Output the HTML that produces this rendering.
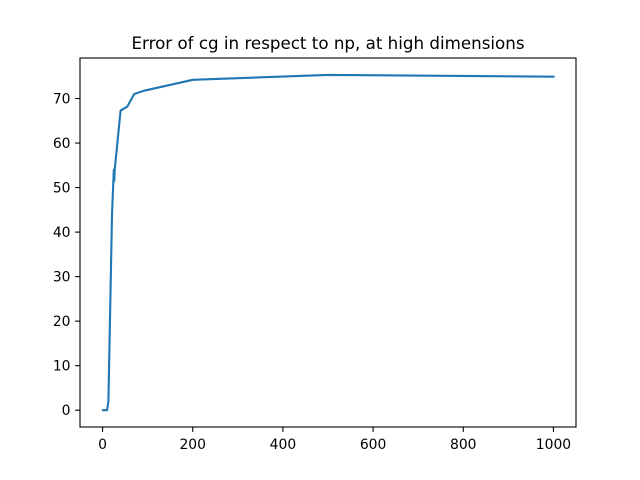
<!DOCTYPE html>
<html><head><meta charset="utf-8"><style>
body{margin:0;background:#fff}
svg{display:block;font-family:"DejaVu Sans","Liberation Sans",sans-serif}
</style></head><body>
<svg id="chart" width="640" height="480">
<rect width="640" height="480" fill="#fff"/>
<text x="328" y="49" text-anchor="middle" font-size="16.7">Error of cg in respect to np, at high dimensions</text>
<g id="plot"></g>
</svg>
<script>
const xValues=[1,10,13,21,25,26,27,40,55,70,90,200,500,1000];
const yValues=[0,0,2,44,54,51.5,54,67.3,68.2,71,71.7,74.2,75.3,74.9];
const xTicks=[0,200,400,600,800,1000];
const yTicks=[0,10,20,30,40,50,60,70];
const L=80,R=576,T=58,B=427;
const x0=-50,x1=1050,y0=-3.77,y1=79.1;
const sx=v=>L+(v-x0)/(x1-x0)*(R-L);
const sy=v=>B-(v-y0)/(y1-y0)*(B-T);
const NS="http://www.w3.org/2000/svg";
const g=document.getElementById('plot');
function mk(t,a){const e=document.createElementNS(NS,t);for(const k in a)e.setAttribute(k,a[k]);g.appendChild(e);return e;}
xTicks.forEach(v=>{
 const t=mk('line',{x1:sx(v),x2:sx(v),y1:B,y2:B+4.9,stroke:'#000','stroke-width':1.1});
 
 
 const l=mk('text',{x:sx(v),y:B+22,'text-anchor':'middle','font-size':13.9});
 l.textContent=v;
 
 
});
yTicks.forEach(v=>{
 const t=mk('line',{x1:L-4.9,x2:L,y1:sy(v),y2:sy(v),stroke:'#000','stroke-width':1.1});
 
 
 const l=mk('text',{x:L-9.5,y:sy(v)+5,'text-anchor':'end','font-size':13.9});
 l.textContent=v;
 
 
});
const p=mk('polyline',{points:xValues.map((v,i)=>sx(v)+','+sy(yValues[i])).join(' '),fill:'none',stroke:'#1f77b4','stroke-width':2.1,'stroke-linejoin':'round','stroke-linecap':'square'});


const f=mk('rect',{x:L,y:T,width:R-L,height:B-T,fill:'none',stroke:'#000','stroke-width':1.1});


</script>
</body></html>
